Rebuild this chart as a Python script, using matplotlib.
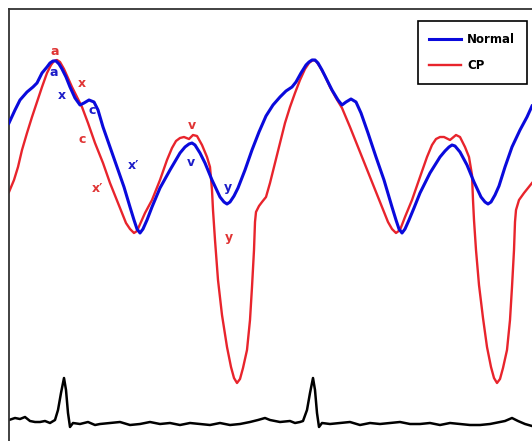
import matplotlib
matplotlib.use('Agg')
import matplotlib.pyplot as plt

# jugular venous pulse traces (pixel-like units, y grows downward)
normal_x = [9, 15, 20, 27, 33, 37, 42, 47, 50, 53, 56, 59, 62, 66, 70, 75, 80, 84, 89, 94, 98,
            103, 110, 117, 124, 130, 134, 137, 140, 143, 147, 152, 160, 170, 180, 185, 189, 192,
            195, 200, 205, 212, 220, 224, 227, 230, 234, 238, 245, 252, 259, 266, 273, 280,
            286, 292, 296, 301, 306, 309, 312, 315, 318, 322, 326, 332, 338, 342, 346, 351,
            356, 361, 368, 376, 384, 392, 396, 399, 402, 405, 409, 414, 420, 430, 440, 445,
            449, 452, 455, 460, 467, 474, 481, 485, 488, 491, 495, 499, 505, 512, 520, 527, 532]
normal_y = [123, 110, 100, 92, 87, 83, 73, 67, 63, 61, 61, 64, 69, 77, 87, 98, 105, 103, 100, 102, 110,
            127, 147, 167, 187, 207, 220, 229, 233, 229, 220, 207, 188, 170, 153, 147, 144, 143,
            145, 153, 163, 180, 197, 202, 204, 202, 196, 188, 170, 150, 132, 116, 105, 97,
            91, 87, 82, 73, 65, 62, 60, 60, 63, 70, 78, 90, 100, 105, 102, 99,
            102, 113, 133, 157, 180, 207, 220, 229, 233, 229, 220, 208, 193, 173, 157, 151,
            147, 145, 146, 152, 165, 182, 197, 202, 204, 202, 195, 186, 167, 147, 130, 117, 106]

cp_x = [9, 14, 18, 22, 27, 32, 37, 42, 47, 51, 54, 57, 60, 64, 68, 72, 77, 82, 88, 95, 103,
        110, 118, 126, 130, 134, 137, 141, 145, 152, 160, 167, 172, 176, 180, 184, 189, 193,
        197, 202, 207, 210, 212, 213, 215, 218, 222, 227, 231, 234, 237, 240, 243, 247,
        250, 252, 254, 255, 256, 259, 262, 266, 270, 275, 280, 285, 290, 295, 300, 305,
        309, 313, 316, 320, 325, 330, 336, 342, 350, 358, 366, 374, 382, 388, 392, 396, 400,
        405, 412, 420, 427, 432, 436, 440, 444, 450, 456, 460, 465, 469, 472, 473, 474, 476,
        479, 483, 487, 491, 494, 497, 500, 503, 507, 510, 512, 514, 515, 516, 519, 524,
        528, 532]
cp_y = [192, 180, 167, 150, 133, 117, 102, 87, 73, 65, 61, 60, 62, 69, 78, 87, 97, 107, 123, 143, 163,
        183, 203, 223, 229, 233, 231, 222, 213, 200, 180, 160, 148, 141, 138, 137, 139, 135,
        136, 145, 157, 167, 190, 210, 240, 280, 315, 347, 367, 378, 383, 379, 368, 350,
        320, 287, 250, 222, 212, 206, 202, 197, 183, 163, 143, 123, 107, 93, 80, 69,
        63, 60, 61, 67, 76, 87, 98, 108, 127, 147, 167, 187, 207, 222, 229, 233, 230,
        217, 200, 177, 157, 145, 139, 137, 137, 140, 135, 137, 147, 157, 175, 200, 220, 250,
        285, 318, 347, 367, 378, 383, 379, 368, 350, 320, 287, 250, 222, 210, 200, 193,
        188, 183]

ecg_x = [9, 15, 20, 25, 30, 35, 40, 45, 50, 55, 58, 61, 64, 66, 68, 70, 73, 80, 88, 95, 100,
         110, 120, 130, 140, 150, 160, 170, 180, 190, 200, 210, 220, 230, 240, 250, 258, 265,
         270, 280, 290, 295, 300, 303, 307, 310, 313, 315, 317, 319, 322, 330, 340, 350, 360,
         370, 380, 390, 400, 410, 420, 430, 440, 450, 460, 470, 480, 490, 495, 505, 512, 518,
         525, 532]
ecg_y = [420, 418, 419, 417, 421, 422, 422, 421, 423, 420, 410, 393, 378, 390, 413, 427, 423,
         424, 422, 425, 424, 423, 422, 425, 424, 422, 424, 423, 425, 423, 424, 425, 423, 425,
         424, 422, 420, 418, 420, 422, 421, 423, 422, 421, 410, 393, 378, 390, 413, 427, 423,
         424, 423, 422, 425, 423, 424, 423, 422, 424, 424, 423, 425, 423, 424, 425, 425, 424,
         423, 421, 418, 421, 424, 426]

# wave labels: (text, x, y, colour key)
wave_labels = [('a', 55, 51, 'cp'), ('a', 54, 72, 'normal'), ('x', 82, 83, 'cp'),
               ('x', 62, 95, 'normal'), ('c', 92, 110, 'normal'), ('c', 82, 139, 'cp'),
               ('x\u2032', 133, 165, 'normal'), ('x\u2032', 97, 188, 'cp'),
               ('v', 192, 125, 'cp'), ('v', 191, 162, 'normal'), ('y', 228, 187, 'normal'),
               ('y', 229, 237, 'cp')]

blue = '#0a0adc'
red = '#e8242c'
colors = {'normal': '#1c1cc8', 'cp': '#e03434'}

W, H = 532, 441
fig = plt.figure(figsize=(W / 100, H / 100), dpi=100)
ax = fig.add_axes([9 / W, 0, 1 - 9 / W, 1 - 9 / H])

ax.plot(normal_x, normal_y, color=blue, lw=2.2, solid_joinstyle='round', label='Normal', zorder=3)
ax.plot(cp_x, cp_y, color=red, lw=1.7, solid_joinstyle='round', label='CP', zorder=2)
ax.plot(ecg_x, ecg_y, color='black', lw=1.8, solid_joinstyle='round', zorder=2)

for txt, x, y, key in wave_labels:
    ax.text(x, y, txt, color=colors[key], fontsize=9, fontweight='bold',
            ha='center', va='center', zorder=4)

ax.set_xlim(9, W)
ax.set_ylim(H, 9)
ax.set_xticks([])
ax.set_yticks([])
ax.spines['right'].set_visible(False)
ax.spines['bottom'].set_visible(False)
ax.spines['left'].set_linewidth(1.3)
ax.spines['top'].set_linewidth(1.3)
ax.spines['left'].set_color('#333333')
ax.spines['top'].set_color('#333333')

leg = ax.legend(loc='upper right', bbox_to_anchor=(527 / W, 1 - 21 / H),
                bbox_transform=fig.transFigure, prop={'weight': 'bold', 'size': 8.5},
                frameon=True, fancybox=False, framealpha=1, edgecolor='black',
                handlelength=2.7, handletextpad=0.5, labelspacing=1.1, borderpad=1.0,
                borderaxespad=0)
leg.get_frame().set_linewidth(1.2)

fig.savefig('out.png', dpi=100)
